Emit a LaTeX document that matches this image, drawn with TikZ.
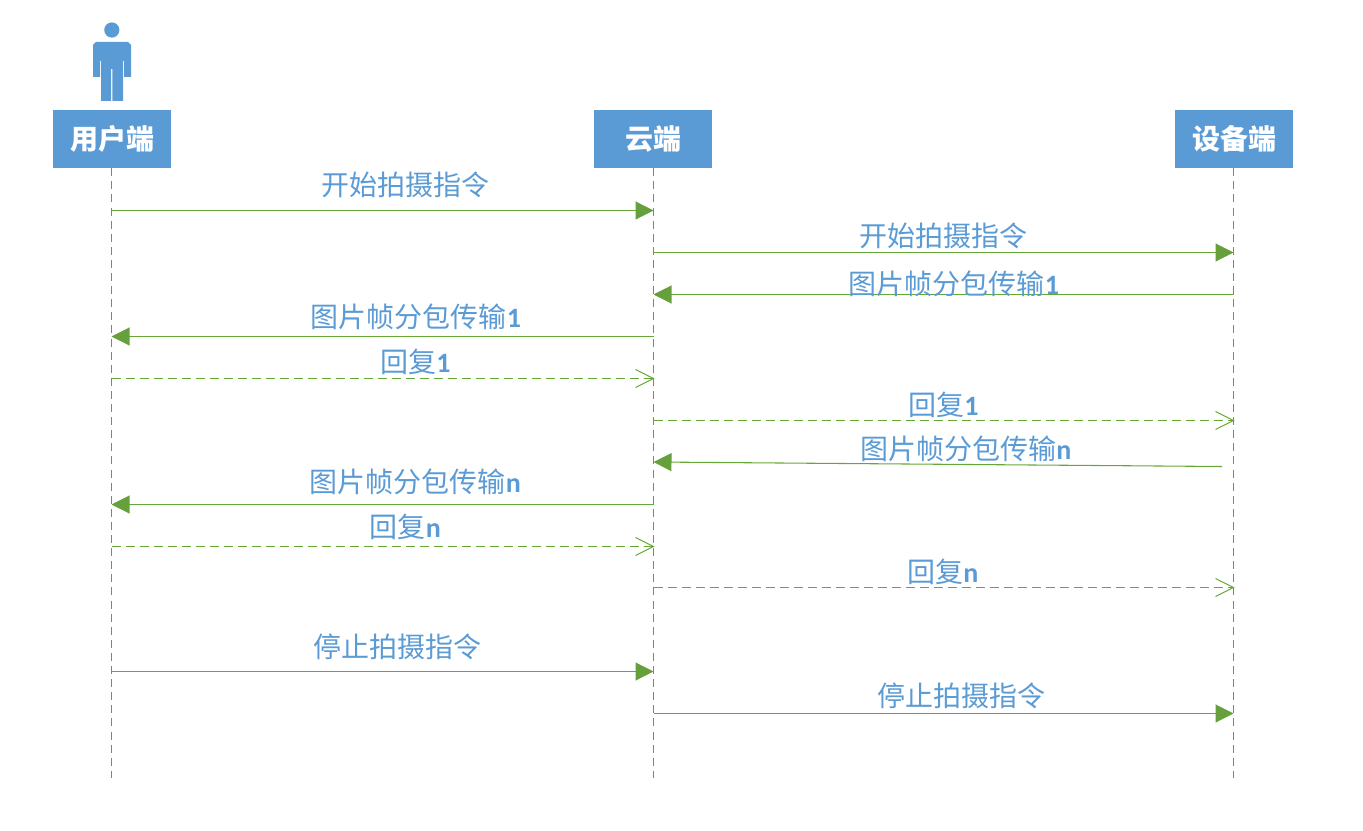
\documentclass[tikz,border=0pt]{standalone}
\usepackage{fontspec}
\setmainfont{Carlito}
\newfontfamily\cjk{Noto Sans CJK SC}
\usepackage{tikz}
\usetikzlibrary{arrows.meta}
\usetikzlibrary{positioning}
\definecolor{boxblue}{HTML}{5B9BD5}
\definecolor{linegreen}{HTML}{65A836}
\definecolor{tipgreen}{HTML}{65A03C}
\definecolor{lifegray}{HTML}{6688AA}
\pgfdeclarearrow{
  name=OpenVee,
  setup code={
    \pgfarrowssettipend{0pt}
    \pgfarrowssetlineend{-0.5pt}
    \pgfarrowssetbackend{-13.5pt}
    \pgfarrowssetvisualbackend{-0.5pt}
    \pgfarrowshullpoint{0pt}{0pt}
    \pgfarrowshullpoint{-13.5pt}{6.75pt}
    \pgfarrowshullpoint{-13.5pt}{-6.75pt}
  },
  drawing code={
    \pgfsetdash{}{0pt}
    \pgfsetlinewidth{0.75pt}
    \pgfpathmoveto{\pgfqpoint{-13.5pt}{6.75pt}}
    \pgfpathlineto{\pgfqpoint{0pt}{0pt}}
    \pgfpathlineto{\pgfqpoint{-13.5pt}{-6.75pt}}
    \pgfusepathqstroke
  }
}
\tikzstyle{role}=[
        rectangle,
        fill=boxblue,
        text=white,
        minimum width=88.5pt,
        minimum height=43.5pt,
        inner sep=0pt,
        font=\cjk\bfseries\fontsize{21}{21}\selectfont
]
\tikzstyle{msg}=[text=boxblue,inner sep=0pt,font=\cjk\fontsize{21}{21}\selectfont]
\tikzstyle{life}=[lifegray,line width=0.9pt,dash pattern=on 6pt off 3.825pt]
\tikzstyle{call}=[-{Triangle[length=13.5pt,width=13.5pt,color=tipgreen]},linegreen,line width=0.8pt]
\tikzstyle{reply}=[-OpenVee,linegreen,line width=0.8pt,dash pattern=on 6.75pt off 3.75pt]
\newcommand{\lat}[1]{{\rmfamily\fontspec{Carlito}\bfseries #1}}
\begin{document}
\begin{tikzpicture}[x=0.75pt,y=-0.75pt]
\useasboundingbox (0,0) rectangle (1363,831);
\node[role] (user) at (112,139) {用户端};
\node[role] (cloud) at (653,139) {云端};
\node[role] (device) at (1234,139) {设备端};
%person
\fill[boxblue] (111.8,30) circle (7.6);
\fill[boxblue] (93,77) -- (93,45) -- (96,42) -- (128,42) -- (131,45) -- (131,77) -- (124,77) -- (124,61) -- (123,61) -- (123,101) -- (112.4,101) -- (112.4,69) -- (111,69) -- (111,101) -- (101,101) -- (101,61) -- (100,61) -- (100,77) -- cycle;
%lifelines
\coordinate (userend) at (111.5,778);
\coordinate (cloudend) at (653.5,778);
\coordinate (deviceend) at (1233.5,778);
\draw[life] (user.south -| userend) -- (userend);
\draw[life] (cloud.south -| cloudend) -- (cloudend);
\draw[life] (device.south -| deviceend) -- (deviceend);
%points on the lifelines
\foreach \name/\ypos in {a/210.5,d/336.5,e/378.5,h/504.5,i/546.5,l/671.5}{
  \coordinate (u\name) at (111.5,\ypos);
  \coordinate (c\name) at (653.5,\ypos);
}
\foreach \name/\ypos in {b/252.5,c/294.5,f/420.5,j/587.5,m/713.5}{
  \coordinate (c\name) at (653.5,\ypos);
  \coordinate (r\name) at (1233.5,\ypos);
}
\coordinate (cg) at (653.5,462);
\coordinate (rg) at (1222,466.5);
%messages
\draw[call] (ua) -- (ca);
\draw[call] (cb) -- (rb);
\draw[call] (rc) -- (cc);
\draw[call] (cd) -- (ud);
\draw[reply] (ue) -- (ce);
\draw[reply] (cf) -- (rf);
\draw[call] (rg) -- (cg);
\draw[call] (ch) -- (uh);
\draw[reply] (ui) -- (ci);
\draw[reply] (cj) -- (rj);
\draw[call] (ul) -- (cl);
\draw[call] (cm) -- (rm);
%labels
\node[msg] (la) at (405.5,185) {开始拍摄指令};
\node[msg] (lb) at (943.5,236) {开始拍摄指令};
\node[msg] (lc) at (954,284) {图片帧分包传输\lat{1}};
\node[msg] (ld) at (416,317) {图片帧分包传输\lat{1}};
\node[msg] (le) at (415.5,362) {回复\lat{1}};
\node[msg] (lf) at (943.5,405) {回复\lat{1}};
\node[msg] (lg) at (966,449) {图片帧分包传输\lat{n}};
\node[msg] (lh) at (415.5,482) {图片帧分包传输\lat{n}};
\node[msg] (li) at (405.5,527) {回复\lat{n}};
\node[msg] (lj) at (943,572) {回复\lat{n}};
\node[msg] (ll) at (397,647) {停止拍摄指令};
\node[msg] (lm) at (961.5,696) {停止拍摄指令};
\end{tikzpicture}
\end{document}
